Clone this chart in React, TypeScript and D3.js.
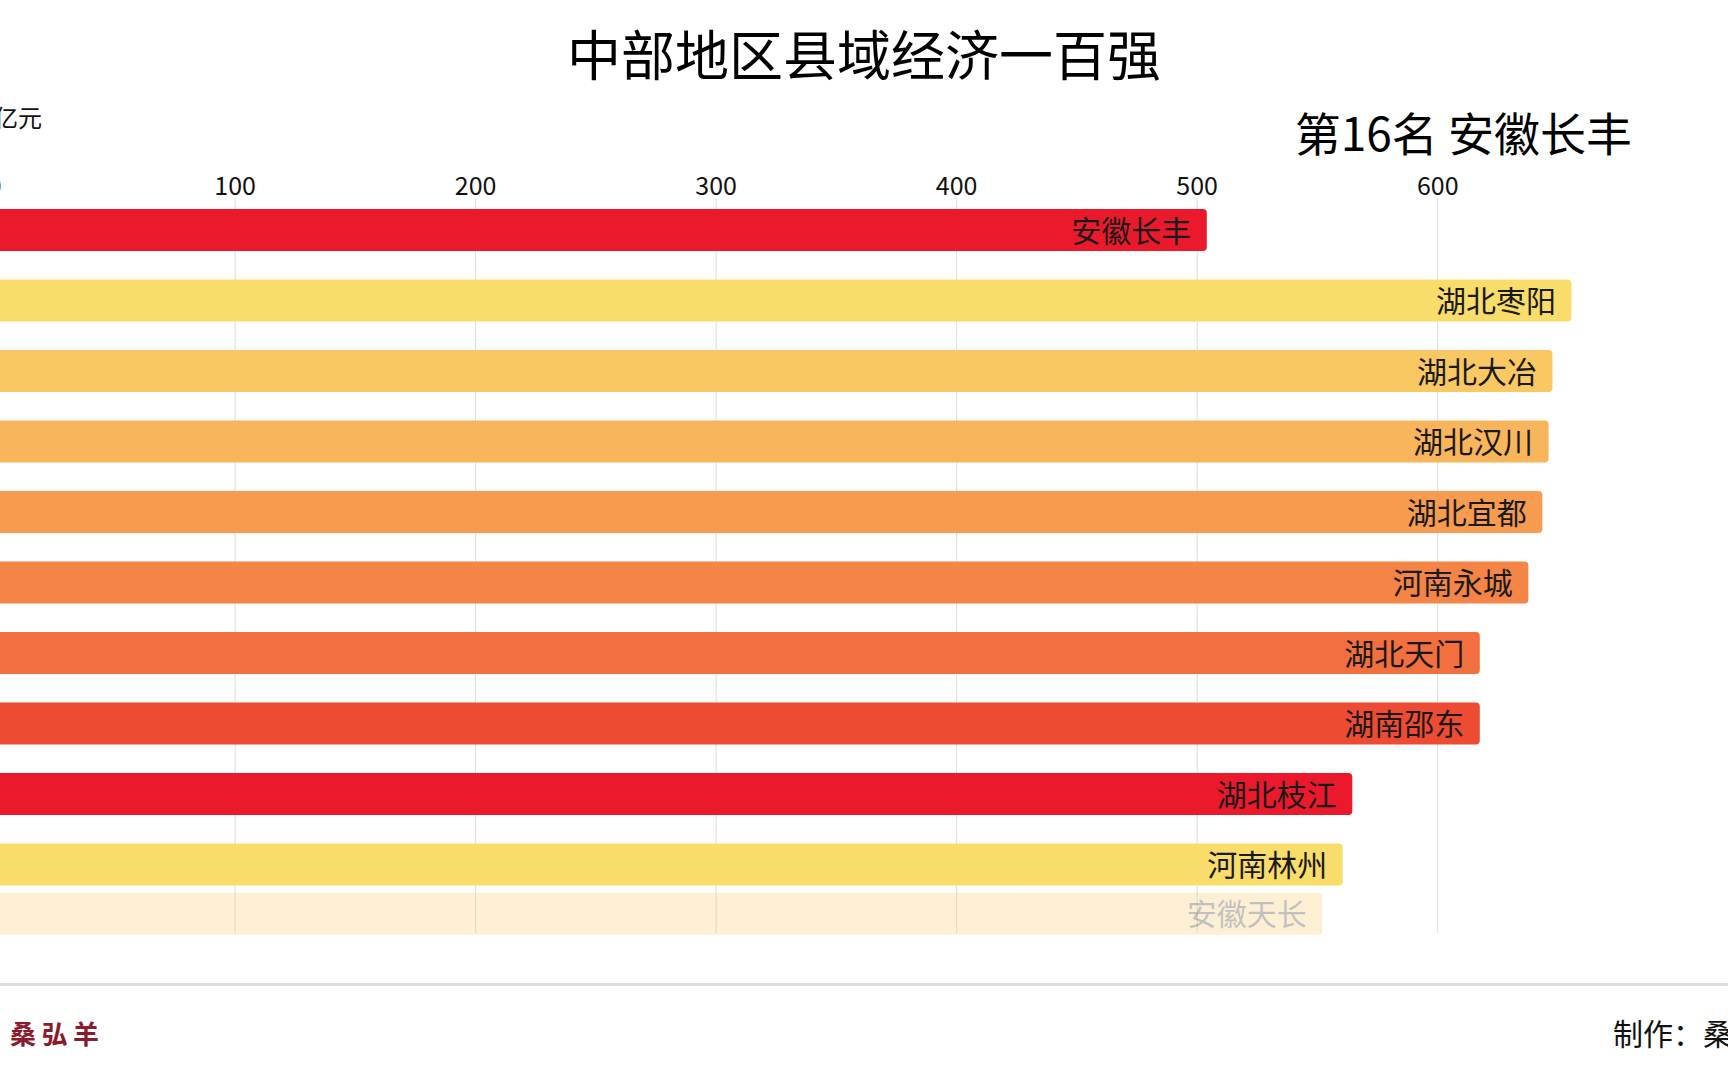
import React from "react";
import * as d3 from "d3";

const names = ["安徽长丰", "湖北枣阳", "湖北大冶", "湖北汉川", "湖北宜都", "河南永城", "湖北天门", "湖南邵东", "湖北枝江", "河南林州", "安徽天长"];
const values = [504, 655.6, 647.7, 646.1, 643.5, 637.7, 617.5, 617.5, 564.5, 560.5, 552];
const colors = ["#EB192C", "#F9DD6B", "#F9C862", "#F8B55B", "#F69B4F", "#F48546", "#F26F40", "#EE4B33", "#EB192C", "#F9DD6B", "#F9C862"];
const slots = [0, 1, 2, 3, 4, 5, 6, 7, 8, 9, 9.7];
const opacities = [1, 1, 1, 1, 1, 1, 1, 1, 1, 1, 0.27];
const tickValues = [0, 100, 200, 300, 400, 500, 600];

const title = "中部地区县域经济一百强";
const subtitle = "第16名 安徽长丰";
const unit = "亿元";
const brand = "桑弘羊";
const credit = "制作：桑弘羊";

const W = 1728;
const H = 1080;
const FONT = "'Noto Sans CJK SC', 'Noto Sans', sans-serif";

export default function App() {
  const x = d3.scaleLinear().domain([0, 600]).range([-5.4, 1437.7]);
  const y = d3.scaleLinear().domain([0, 1]).range([209, 279.5]);
  const barH = 42;
  const gridTop = 198;
  const gridBottom = 933;

  return (
    <svg
      width={W}
      height={H}
      style={{ position: "absolute", left: 0, top: 0, background: "#fff" }}
      fontFamily={FONT}
    >
      <rect x={0} y={0} width={W} height={H} fill="#ffffff" />
      {tickValues.map((t) => (
        <g key={t}>
          <line x1={x(t)} x2={x(t)} y1={gridTop} y2={gridBottom} stroke="#DCDCDC" strokeWidth={1} />
          <text x={x(t)} y={195} textAnchor="middle" fontSize={25} fill="#111">
            {t}
          </text>
        </g>
      ))}
      {names.map((n, i) => {
        const top = y(slots[i]);
        const xe = x(values[i]);
        return (
          <g key={n} opacity={opacities[i]}>
            <rect x={x(0) - 6} y={top} width={xe - x(0) + 6} height={barH} rx={4} ry={4} fill={colors[i]} />
            <text x={xe - 15.5} y={top + barH / 2 + 11.5} textAnchor="end" fontSize={30} fill="#1a1a1a">
              {n}
            </text>
          </g>
        );
      })}
      <text x={W / 2} y={76} textAnchor="middle" fontSize={54} fill="#000">
        {title}
      </text>
      <text x={1632} y={151} textAnchor="end" fontSize={46} fill="#000">
        {subtitle}
      </text>
      <text x={42} y={127} textAnchor="end" fontSize={24} fill="#111">
        {unit}
      </text>
      <rect x={0} y={983} width={W} height={3} fill="#DEDEDE" />
      <text x={10} y={1044} fontSize={26} fontWeight="bold" fill="#8B1A2D" letterSpacing={5.5}>
        {brand}
      </text>
      <text x={1613} y={1045} fontSize={30} fill="#111">
        {credit}
      </text>
    </svg>
  );
}
